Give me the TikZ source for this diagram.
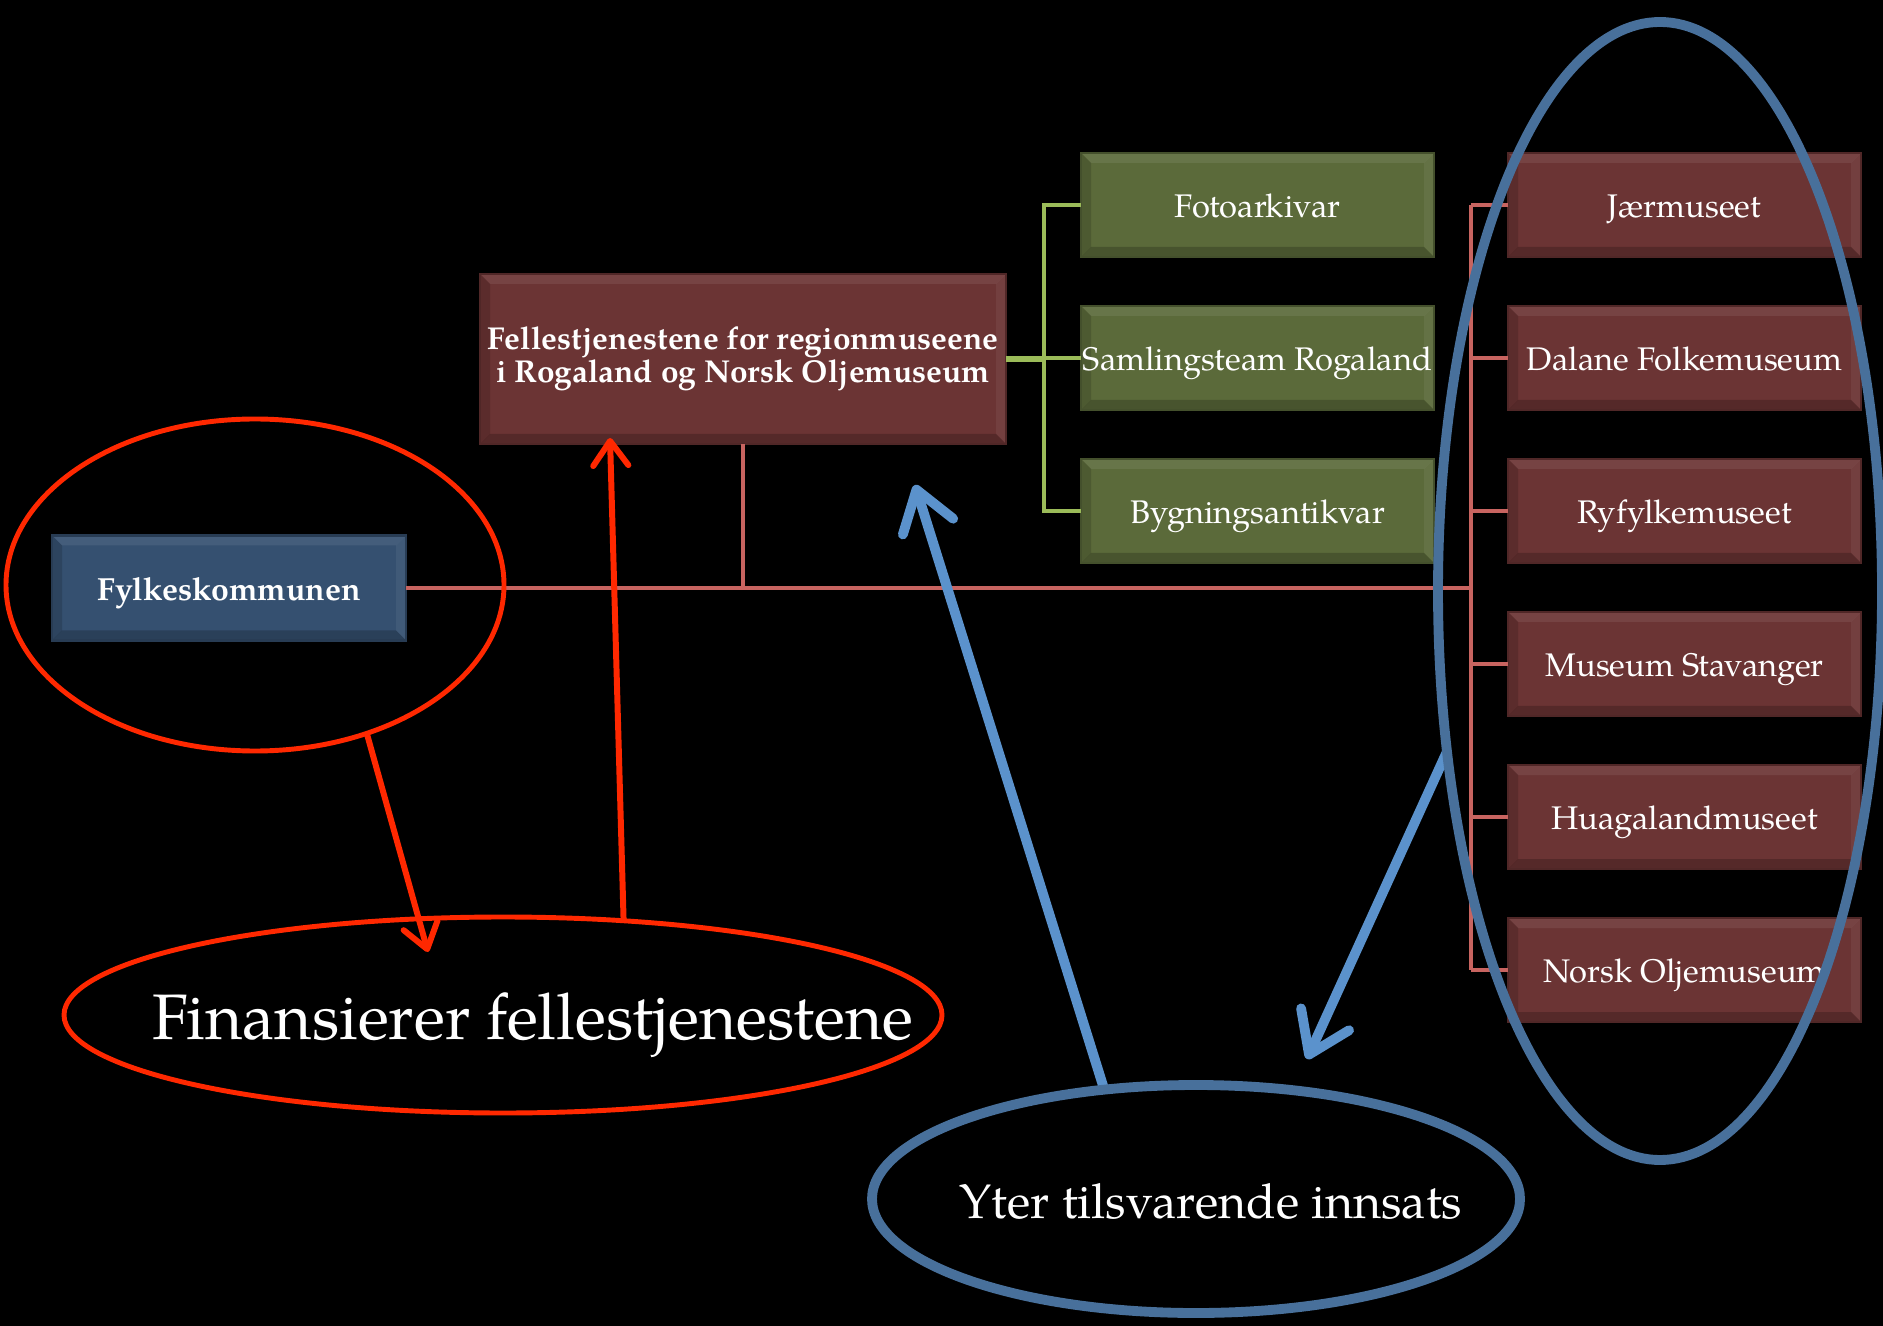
\documentclass[tikz,border=0pt]{standalone}
\usepackage{fontspec}
\setmainfont{texgyrepagella}[Extension=.otf, UprightFont=*-regular, BoldFont=*-bold, ItalicFont=*-italic, BoldItalicFont=*-bolditalic]
\usetikzlibrary{positioning,arrows.meta,shapes.geometric,calc}

\definecolor{boxred}{RGB}{107,52,52}
\definecolor{boxgreen}{RGB}{91,106,58}
\definecolor{boxblue}{RGB}{53,80,112}
\definecolor{linered}{RGB}{200,100,96}
\definecolor{linegreen}{RGB}{155,187,89}
\definecolor{ringred}{RGB}{255,40,0}
\definecolor{ringblue}{RGB}{72,112,155}
\definecolor{arrowblue}{RGB}{91,146,204}

% light top/right, dark bottom/left edges of a box
\newcommand{\boxbevel}{%
  \coordinate (bnw) at (path picture bounding box.north west);
  \coordinate (bse) at (path picture bounding box.south east);
  \coordinate (bne) at (bnw -| bse);
  \coordinate (bsw) at (bnw |- bse);
  \fill[white,opacity=.08] (bnw) -- (bne) -- ($(bne)+(-.1,-.1)$) -- ($(bnw)+(.1,-.1)$) -- cycle;
  \fill[white,opacity=.06] (bne) -- (bse) -- ($(bse)+(-.1,.1)$) -- ($(bne)+(-.1,-.1)$) -- cycle;
  \fill[black,opacity=.20] (bse) -- (bsw) -- ($(bsw)+(.1,.1)$) -- ($(bse)+(-.1,.1)$) -- cycle;
  \fill[black,opacity=.15] (bsw) -- (bnw) -- ($(bnw)+(.1,-.1)$) -- ($(bsw)+(.1,.1)$) -- cycle;
}

\begin{document}
\begin{tikzpicture}[
    box/.style={
       rectangle,
       draw=#1!75!black,
       fill=#1,
       line width=0.6pt,
       text=white,
       minimum width=3.53cm,
       minimum height=1.04cm,
       inner sep=0pt,
       outer sep=0pt,
       text height=0.7em,
       text depth=0pt,
       font=\fontsize{9.3}{11}\selectfont,
       path picture={\boxbevel}},
    link/.style={line width=1.2pt},
    ring/.style={ellipse, inner sep=0pt, outer sep=0pt},
    redhint/.style={line width=1.7pt, ringred,
       -{Straight Barb[round,length=7pt,width=10pt]}},
    bluehint/.style={line width=2.8pt, arrowblue,
       -{Straight Barb[round,length=11pt,width=15pt]}},
    node distance=0.49cm
    ]
    \fill[black] (0,0) rectangle (18.83,-13.26);
    \useasboundingbox (0,0) rectangle (18.83,-13.26);

    % boxes
    \node[box=boxblue, minimum width=3.54cm, minimum height=1.05cm,
          font=\bfseries\fontsize{9.1}{10}\selectfont] (fylke) at (2.29,-5.88) {Fylkeskommunen};
    \node[box=boxred, minimum width=5.26cm, minimum height=1.70cm, align=center,
          text height=, text depth=,
          font=\bfseries\fontsize{9.0}{9.3}\selectfont] (felles) at (7.43,-3.59)
          {Fellestjenestene for regionmuseene\\i Rogaland og Norsk Oljemuseum};

    \node[box=boxgreen] (foto) at (12.575,-2.05) {Fotoarkivar};
    \node[box=boxgreen, below=of foto] (samling) {Samlingsteam Rogaland};
    \node[box=boxgreen, below=of samling] (bygning) {Bygningsantikvar};

    \node[box=boxred] (jaer) at (16.845,-2.05) {Jærmuseet};
    \node[box=boxred, below=of jaer] (dalane) {Dalane Folkemuseum};
    \node[box=boxred, below=of dalane] (ryfylke) {Ryfylkemuseet};
    \node[box=boxred, below=of ryfylke] (stavanger) {Museum Stavanger};
    \node[box=boxred, below=of stavanger] (hauga) {Huagalandmuseet};
    \node[box=boxred, below=of hauga] (olje) {Norsk Oljemuseum};

    % connectors
    \coordinate (gbus) at (10.44,0);
    \coordinate (mbus) at (14.71,0);
    \draw[link, linegreen, line width=1.5pt] (felles.east) -- (gbus |- felles.east);
    \draw[link, linegreen] (foto.west) -- (gbus |- foto.west) -- (gbus |- bygning.west) -- (bygning.west);
    \draw[link, linegreen] (samling.west) -- (gbus |- samling.west);

    \draw[link, linered] (fylke.east) -- (mbus |- fylke.east);
    \draw[link, linered] (felles.south) -- (felles.south |- fylke.east);
    \draw[link, linered] (mbus |- jaer.west) -- (mbus |- olje.west);
    \foreach \m in {jaer,dalane,ryfylke,stavanger,hauga,olje}
       \draw[link, linered] (\m.west) -- (mbus |- \m.west);

    % rings
    \node[ring, minimum width=4.98cm, minimum height=3.32cm] (fylkering) at (2.55,-5.85) {};
    \node[ring, minimum width=8.78cm, minimum height=1.96cm] (finring) at (5.03,-10.15) {};
    \node[text=white, font=\fontsize{18.3}{20}\selectfont] (fin) at (5.33,-10.25) {Finansierer fellestjenestene};
    \node[ring, minimum width=6.48cm, minimum height=2.28cm] (yter) at (11.96,-11.99) {};
    \node[text=white, font=\fontsize{13.75}{16}\selectfont] (ytext) at (12.11,-12.01) {Yter tilsvarende innsats};
    \node[ring, minimum width=4.44cm, minimum height=11.38cm] (musring) at (16.60,-5.91) {};

    % arrows
    \coordinate (fintip) at (4.28,-9.52);
    \coordinate (fundtip) at (6.10,-4.38);
    \coordinate (yttip) at (9.15,-4.85);
    \coordinate (mustip) at (13.07,-10.59);
    \draw[redhint] (fylkering.-53) -- (fintip);
    \draw[redhint] (finring.38) -- (fundtip);
    \draw[bluehint] (yter.130) -- (yttip);
    \draw[bluehint] (musring.217) -- (mustip);

    % ring outlines on top
    \draw[ringred, line width=1.4pt] (fylkering.center) ellipse (2.49cm and 1.66cm);
    \draw[ringred, line width=1.4pt] (finring.center) ellipse (4.39cm and 0.98cm);
    \draw[ringblue, line width=2.8pt] (yter.center) ellipse (3.24cm and 1.14cm);
    \draw[ringblue, line width=2.8pt] (musring.center) ellipse (2.22cm and 5.69cm);
\end{tikzpicture}
\end{document}
